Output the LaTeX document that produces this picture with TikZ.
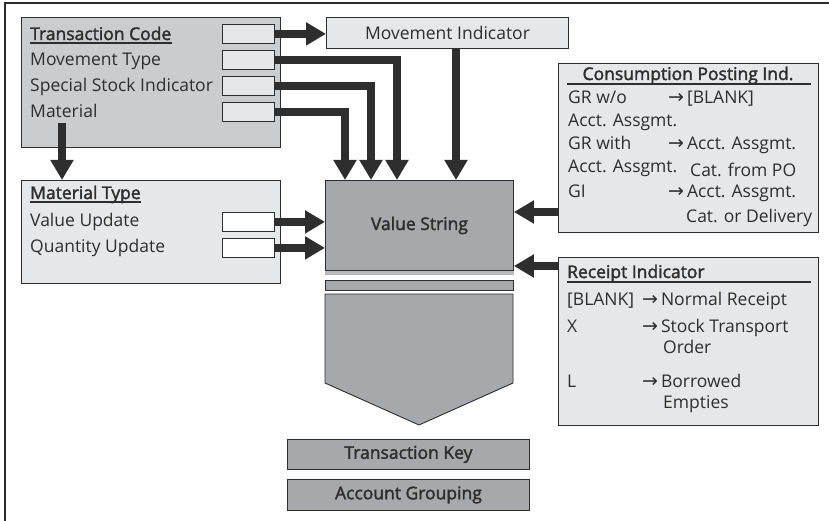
\documentclass[tikz,border=0pt]{standalone}
\usepackage{fontspec}
\setmainfont{Open Sans}
\newfontfamily\semifont[FakeBold=2]{Open Sans}
\newfontfamily\arrowfont{DejaVu Sans}
\usetikzlibrary{arrows.meta, positioning, calc}

\definecolor{panelgray}{HTML}{E6E7E8}
\definecolor{codegray}{HTML}{CBCCCE}
\definecolor{keygray}{HTML}{A7A8AB}
\definecolor{inkgray}{HTML}{2E2E2E}

\newcommand{\toarrow}{{\arrowfont\fontsize{19}{18}\selectfont →}}

\tikzset{
  panel/.style={draw=inkgray, line width=0.9pt, fill=panelgray, anchor=north west,
    inner sep=0pt, text=inkgray, font=\fontsize{17.5}{20}\selectfont},
  slot/.style={draw=inkgray, line width=0.8pt, fill=panelgray, anchor=north west,
    inner sep=0pt, minimum width=52, minimum height=19},
  lbl/.style={anchor=base west, inner sep=0pt, text=inkgray,
    font=\fontsize{17.5}{20}\selectfont},
  head/.style={lbl, font=\fontsize{17.5}{20}\selectfont\semifont},
  bigarrow/.style={draw=inkgray, line width=8pt, -{Triangle[length=20pt, width=22pt]}},
  rule/.style={draw=inkgray, line width=1.2pt}
}

\begin{document}
\begin{tikzpicture}[x=1pt, y=-1pt]
  \useasboundingbox (0,0) rectangle (829,521);
  % frame, cut at right and bottom
  \draw[inkgray, line width=1.2pt] (5,521) -- (5,3) -- (829,3);

  % transaction code block
  \node[panel, fill=codegray, minimum width=259, minimum height=130] (tc) at (21,17) {};
  \foreach \i/\y in {1/24, 2/50, 3/76, 4/102}
    \node[slot] (tc\i) at (222,\y) {};
  \node[head] (tchead) at (30,40) {Transaction Code};
  \draw[rule] ([yshift=-3pt]tchead.base west) -- ([yshift=-3pt]tchead.base east);
  \node[lbl] (tcmove) at (30,66) {Movement Type};
  \node[lbl] (tcspec) at (30,92) {Special Stock Indicator};
  \node[lbl] (tcmat) at (30,118) {Material};

  % movement indicator
  \node[panel, minimum width=242, minimum height=31] (mi) at (326,17) {Movement Indicator};

  % material type block
  \node[panel, minimum width=259, minimum height=103] (mt) at (21,180) {};
  \foreach \i/\y in {1/212, 2/238}
    \node[slot, fill=white] (mt\i) at (222,\y) {};
  \node[head] (mthead) at (30,199) {Material Type};
  \draw[rule] ([yshift=-3pt]mthead.base west) -- ([yshift=-3pt]mthead.base east);
  \node[lbl] (mtvalue) at (30,226) {Value Update};
  \node[lbl] (mtqty) at (30,252) {Quantity Update};

  % value string and its funnel
  \fill[keygray!80] (325,270) rectangle (514,275);
  \node[panel, fill=keygray, minimum width=188, minimum height=90] (vs) at (325,180)
    {\semifont Value String};
  \node[panel, fill=keygray, minimum width=188, minimum height=10] (bar) at (325,280) {};
  \draw[inkgray, line width=0.9pt, fill=keygray]
    (325,294) -- (513,294) -- (513,383) -- (419,425) -- (325,383) -- cycle;

  % results
  \node[panel, fill=keygray, minimum width=242, minimum height=30] (tk) at (287,439)
    {\semifont Transaction Key};
  \node[panel, fill=keygray, minimum width=242, minimum height=31] (ag) at (287,479)
    {\semifont Account Grouping};

  % consumption posting indicator
  \node[panel, minimum width=260, minimum height=169] (cpi) at (558,63) {};
  \node[head, anchor=base] (cpihead) at (688,80) {Consumption Posting Ind.};
  \draw[rule] ($(cpi.north west)+(9,21)$) -- ($(cpi.north east)+(-8,21)$);
  \node[lbl] (cpi1) at (568,104) {GR w/o};
  \node[lbl] (cpi1r) at (668,104) {\toarrow\,[BLANK]};
  \node[lbl] (cpi2) at (568,127) {Acct. Assgmt.};
  \node[lbl] (cpi3) at (568,150) {GR with};
  \node[lbl] (cpi3r) at (668,150) {\toarrow\,Acct. Assgmt.};
  \node[lbl] (cpi4) at (568,173) {Acct. Assgmt.};
  \node[lbl] (cpi4r) at (690,177) {Cat. from PO};
  \node[lbl] (cpi5) at (568,198) {GI};
  \node[lbl] (cpi5r) at (668,198) {\toarrow\,Acct. Assgmt.};
  \node[lbl] (cpi6r) at (686,223) {Cat. or Delivery};

  % receipt indicator
  \node[panel, minimum width=260, minimum height=168] (ri) at (558,257) {};
  \node[head] (rihead) at (567,278) {Receipt Indicator};
  \draw[rule] ($(ri.north west)+(9,25)$) -- ($(ri.north east)+(-8,25)$);
  \node[lbl] (ri1) at (567,305) {[BLANK]};
  \node[lbl] (ri1r) at (642,305) {\toarrow\,Normal Receipt};
  \node[lbl] (ri2) at (567,332) {X};
  \node[lbl] (ri2r) at (642,332) {\toarrow\,Stock Transport};
  \node[lbl] (ri2b) at (663,353) {Order};
  \node[lbl] (ri3) at (567,387) {L};
  \node[lbl] (ri3r) at (642,387) {\toarrow\,Borrowed};
  \node[lbl] (ri3b) at (663,408) {Empties};

  % connectors
  \draw[bigarrow] (tc1.east) -- (tc1.east -| mi.west);
  \draw[bigarrow] (tc2.east) -| ($(vs.north west)+(72,0)$);
  \draw[bigarrow] (tc3.east) -| ($(vs.north west)+(46,0)$);
  \draw[bigarrow] (tc4.east) -| ($(vs.north west)+(20,0)$);
  \coordinate (mifoot) at ($(mi.south west)+(130,0)$);
  \draw[bigarrow] (mifoot) -- (mifoot |- vs.north);
  \coordinate (matfoot) at ($(tc.south west)+(41,-25)$);
  \draw[bigarrow] (matfoot) -- (matfoot |- mt.north);
  \draw[bigarrow] (mt1.east) -- (mt1.east -| vs.west);
  \draw[bigarrow] (mt2.east) -- (mt2.east -| vs.west);
  \coordinate (cpiport) at ($(cpi.north west)+(0,149)$);
  \draw[bigarrow] (cpiport) -- (cpiport -| vs.east);
  \coordinate (riport) at ($(ri.north west)+(0,9)$);
  \draw[bigarrow] (riport) -- (riport -| vs.east);
\end{tikzpicture}
\end{document}
